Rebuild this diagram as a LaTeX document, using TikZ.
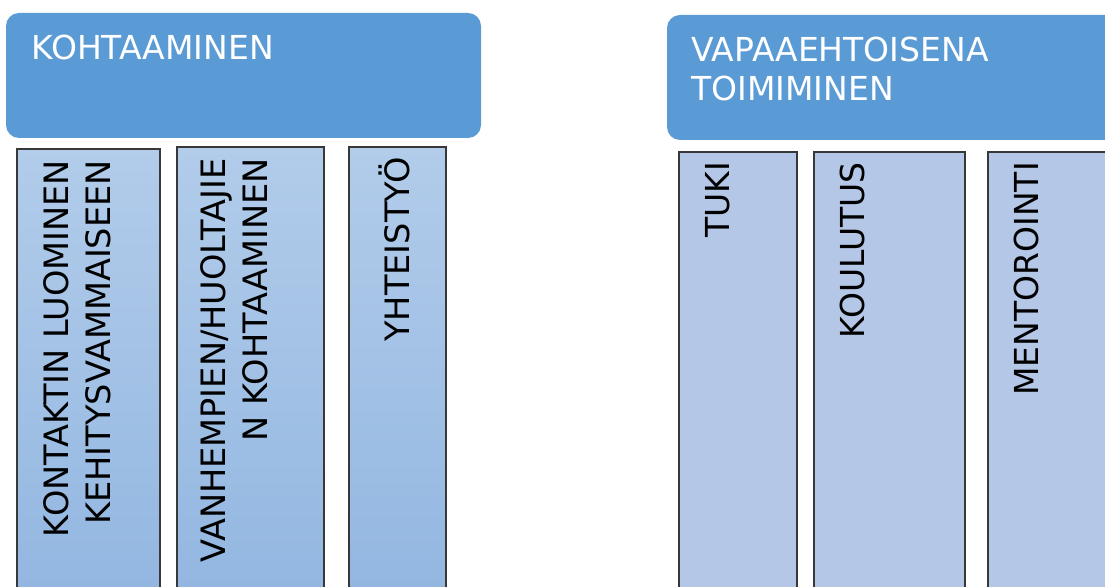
\documentclass[tikz,border=0pt]{standalone}
\usepackage{fontspec}
\setmainfont{DejaVu Sans}
\definecolor{hdr}{HTML}{5B9BD5}
\definecolor{gtop}{HTML}{B2CCEA}
\definecolor{gbot}{HTML}{93B7E1}
\definecolor{flat}{HTML}{B4C7E7}
\definecolor{edge}{HTML}{383838}
\begin{document}
\begin{tikzpicture}[x=1pt,y=1pt,
  header/.style={fill=hdr,rounded corners=13pt},
  gradbox/.style={draw=edge,line width=1.2pt,top color=gtop,bottom color=gbot},
  flatbox/.style={draw=edge,line width=1.2pt,fill=flat},
  htext/.style={inner sep=0pt,text=white,font=\fontsize{33}{39}\selectfont,align=left},
  vtext/.style={inner sep=0pt,rotate=90,anchor=north east,align=right,font=\fontsize{33.6}{42}\selectfont}]
\useasboundingbox (0,0) rectangle (1105,586);
\clip (0,0) rectangle (1105,586);
% headers
\path[header] (6,448) rectangle (481,573);
\path[header] (667,446) rectangle (1130,571);
\node[htext,anchor=base west] (h1) at (31,526) {KOHTAAMINEN};
\node[htext,anchor=north west] (h2) at (691,549) {VAPAAEHTOISENA\\TOIMIMINEN};
% left boxes
\draw[gradbox] (17,-3) rectangle (160,437);
\draw[gradbox] (177,-3) rectangle (324,439);
\draw[gradbox] (349,-3) rectangle (446,439);
% right boxes
\draw[flatbox] (679,-3) rectangle (797,434);
\draw[flatbox] (814,-3) rectangle (965,434);
\draw[flatbox] (988,-3) rectangle (1130,434);
% texts
\node[vtext] (t1) at (43,426) {KONTAKTIN LUOMINEN\\KEHITYSVAMMAISEEN};
\node[vtext] (t2) at (200,428) {VANHEMPIEN/HUOLTAJIE\\N KOHTAAMINEN};
\node[vtext] (t3) at (379,429) {YHTEISTYÖ};
\node[vtext,font=\fontsize{33}{42}\selectfont] (t4) at (705,424) {TUKI};
\node[vtext,font=\fontsize{33}{42}\selectfont] (t5) at (840,424) {KOULUTUS};
\node[vtext,font=\fontsize{33}{42}\selectfont] (t6) at (1014,424) {MENTOROINTI};
\end{tikzpicture}
\end{document}
